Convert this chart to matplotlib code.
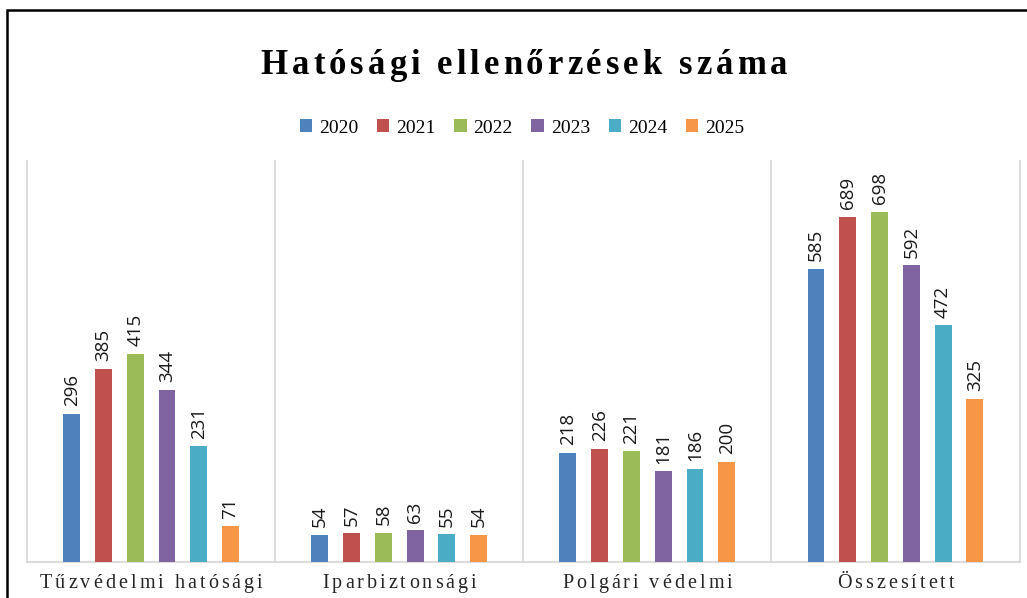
import matplotlib
matplotlib.use('Agg')
import numpy as np
import matplotlib.pyplot as plt
from matplotlib.patches import Rectangle

# data
categories = ['Tűzvédelmi hatósági', 'Iparbiztonsági', 'Polgári védelmi', 'Összesített']
years = ['2020', '2021', '2022', '2023', '2024', '2025']
v2020 = [296, 54, 218, 585]
v2021 = [385, 57, 226, 689]
v2022 = [415, 58, 221, 698]
v2023 = [344, 63, 181, 592]
v2024 = [231, 55, 186, 472]
v2025 = [71, 54, 200, 325]
series = [v2020, v2021, v2022, v2023, v2024, v2025]
colors = ['#4F81BD', '#C0504D', '#9BBB59', '#8064A2', '#4BACC6', '#F79646']

W, H = 1027, 598
fig = plt.figure(figsize=(W/100, H/100), dpi=100, facecolor='w')
ax = fig.add_axes([27/W, (H-562)/H, 992.5/W, 401/H])

x = np.arange(len(categories))
step, bw = 0.128, 0.068
for i, (vals, col, yr) in enumerate(zip(series, colors, years)):
    pos = x + (i - 2.5)*step
    ax.bar(pos, vals, width=bw, color=col, label=yr, zorder=3)
    for p, v in zip(pos, vals):
        ax.annotate(str(v), (p, v), xytext=(0, 5.5), textcoords='offset points',
                    rotation=90, ha='center', va='bottom', fontsize=13.5,
                    family='Open Sans', color='#1a1a1a')

ax.set_xlim(-0.5, 3.5)
ax.set_ylim(0, 800)
for s in ax.spines.values():
    s.set_visible(False)
ax.set_xticks([])
ax.set_yticks([])
grid_c = '#D9D9D9'
ax.axhline(0, color=grid_c, lw=1.3, zorder=2, clip_on=False)
for b in np.arange(-0.5, 4.0, 1.0):
    ax.axvline(b, color=grid_c, lw=1.3, zorder=1, clip_on=False)

renderer = fig.canvas.get_renderer()


def tracked_text(xc, yb, s, track, **kw):
    # draws text char by char with extra letter spacing (pixels)
    def w(t):
        tt = fig.text(0, 0, t, **kw)
        bb = tt.get_window_extent(renderer)
        tt.remove()
        return bb.width
    base = w('||')
    offs = [w('|' + s[:k] + '|') - base for k in range(len(s) + 1)]
    total = offs[-1] + track*(len(s) - 1)
    x0 = xc - total/2
    for k, c in enumerate(s):
        fig.text((x0 + offs[k] + k*track)/W, yb/H, c, ha='left', va='baseline', **kw)


# title
tracked_text(524, H - 74, 'Hatósági ellenőrzések száma', 4.0,
             fontsize=25, fontweight='bold', family='Liberation Serif', color='black')

# category labels
for i, cat in enumerate(categories):
    xc = ax.transData.transform((i, 0))[0]
    tracked_text(xc, H - 588, cat, 3.0, fontsize=14.5,
                 family='Liberation Serif', color='#262626')

fig.legend(loc='center', bbox_to_anchor=(522/W, (H-128)/H), ncol=6, frameon=False,
           handlelength=0.65, handleheight=0.65, handletextpad=0.35,
           columnspacing=0.95, prop={'family': 'Liberation Serif', 'size': 14})

# outer frame (cut off at the right and bottom)
fig.patches.append(Rectangle((6.5/W, -0.05), 1.2, (H - 9.5)/H + 0.05,
                             transform=fig.transFigure, fill=False,
                             edgecolor='black', lw=1.8, clip_on=False))

fig.savefig('out.png', dpi=100, facecolor='w')
